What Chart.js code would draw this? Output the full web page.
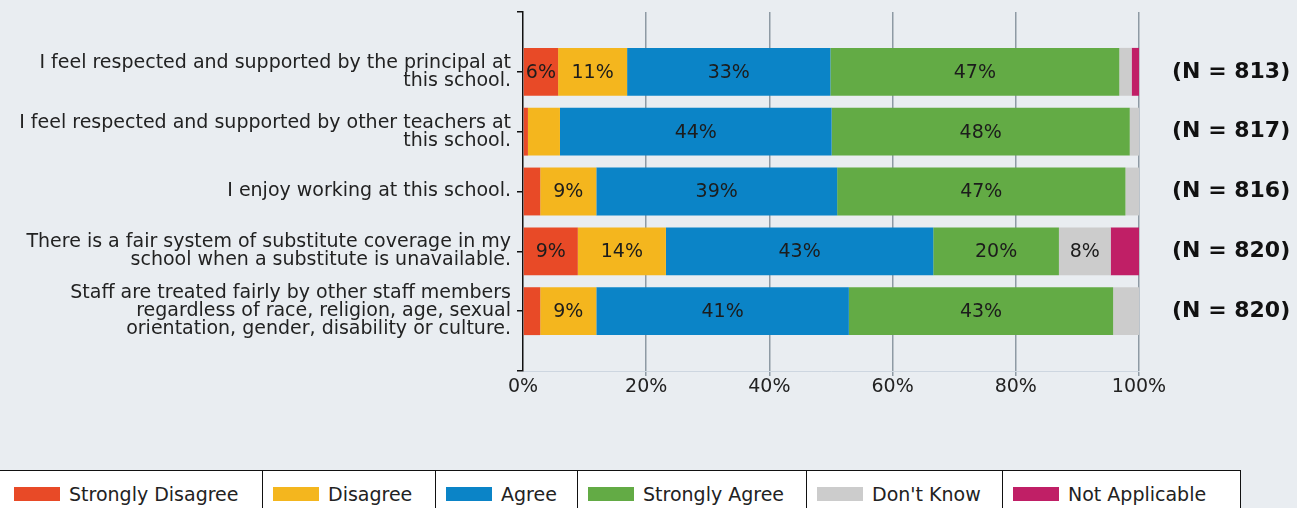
<!DOCTYPE html>
<html>
<head>
<meta charset="utf-8">
<script src="https://cdn.jsdelivr.net/npm/chart.js@4/dist/chart.umd.min.js"></script>
<style>
  body { margin: 0; background: #e9edf1; font-family: "DejaVu Sans", sans-serif; }
  #wrap { position: relative; width: 1297px; height: 508px; overflow: hidden; }
  #legend { position: absolute; left: -1px; top: 470px; display: flex; }
  .cell { box-sizing: border-box; height: 50px; background: #fff; border: 1.5px solid #111; border-left: none;
          display: flex; align-items: flex-start; padding: 12px 0 0 10px; font-size: 19px; color: #222; }
  .cell:first-child { border-left: 1.5px solid #111; padding-left: 14px; }
  .sw { width: 46px; height: 14px; margin: 4px 9px 0 0; }
</style>
</head>
<body>
<div id="wrap">
  <canvas id="grafico" width="1297" height="462"></canvas>
  <div id="legend"></div>
</div>
<script>
// Preguntas (eje vertical), con saltos de línea como en el original
const preguntas = [
    ["I feel respected and supported by the principal at", "this school."],
    ["I feel respected and supported by other teachers at", "this school."],
    ["I enjoy working at this school."],
    ["There is a fair system of substitute coverage in my", "school when a substitute is unavailable."],
    ["Staff are treated fairly by other staff members", "regardless of race, religion, age, sexual", "orientation, gender, disability or culture."]
];
const totalesN = ["(N = 813)", "(N = 817)", "(N = 816)", "(N = 820)", "(N = 820)"];

// Porcentajes por respuesta
const muyDesacuerdo = [5.7, 0.8, 2.8, 8.9, 2.8];
const desacuerdo = [11.2, 5.2, 9.1, 14.3, 9.1];
const deAcuerdo = [33.0, 44.1, 39.1, 43.4, 41.0];
const muyDeAcuerdo = [46.9, 48.4, 46.8, 20.4, 42.9];
const noSabe = [2.0, 1.5, 2.2, 8.4, 4.2];
const noAplica = [1.2, 0, 0, 4.6, 0];

const ticksX = [0, 20, 40, 60, 80, 100];

const series = [
    { label: "Strongly Disagree", data: muyDesacuerdo, color: "#e84a27" },
    { label: "Disagree", data: desacuerdo, color: "#f4b61e" },
    { label: "Agree", data: deAcuerdo, color: "#0b84c7" },
    { label: "Strongly Agree", data: muyDeAcuerdo, color: "#63ab45" },
    { label: "Don't Know", data: noSabe, color: "#cccccc" },
    { label: "Not Applicable", data: noAplica, color: "#c01f66" }
];

// Etiquetas de porcentaje dentro de las barras
const etiquetasBarras = {
    id: "etiquetasBarras",
    afterDatasetsDraw(chart) {
        const ctx = chart.ctx;
        ctx.save();
        ctx.font = "19px 'DejaVu Sans'";
        ctx.fillStyle = "#1c1c1c";
        ctx.textAlign = "center";
        ctx.textBaseline = "middle";
        chart.data.datasets.forEach((ds, i) => {
            chart.getDatasetMeta(i).data.forEach((bar, j) => {
                const v = ds.data[j].x;
                if (v < 5.5) return;
                const p = bar.getCenterPoint();
                ctx.fillText(Math.round(v) + "%", p.x, p.y + 1);
            });
        });
        ctx.restore();
    }
};

const todosLosTicks = [0, 1, 2, 3, 4, 5, 6];

// quita el relleno que Chart.js añade por las etiquetas de los extremos
const sinRelleno = s => { s.paddingTop = 0; s.paddingBottom = 0; s.paddingLeft = 0; s.paddingRight = 0; };

new Chart(document.getElementById("grafico"), {
    type: "bar",
    data: {
        datasets: series.map(s => ({
            label: s.label,
            data: s.data.map((v, i) => ({ x: v, y: i + 1 })),
            backgroundColor: s.color,
            borderWidth: 0,
            barPercentage: 0.8,
            categoryPercentage: 1.0,
            yAxisID: "y"
        }))
    },
    options: {
        indexAxis: "y",
        responsive: false,
        animation: false,
        layout: { padding: { top: 12, left: 0, right: 0, bottom: 0 } },
        plugins: { legend: { display: false }, tooltip: { enabled: false } },
        scales: {
            x: {
                type: "linear",
                stacked: true,
                min: 0,
                max: 100,
                afterBuildTicks: s => { s.ticks = ticksX.map(v => ({ value: v })); },
                afterFit: s => { s.height = 91; sinRelleno(s); },
                ticks: {
                    callback: v => v + "%",
                    font: { family: "DejaVu Sans", size: 19 },
                    color: "#222",
                    padding: 0,
                    maxRotation: 0
                },
                grid: {
                    color: c => c.index === 0 ? "rgba(0,0,0,0)" : "#8e9aa4",
                    lineWidth: 1.5,
                    tickLength: 5
                },
                border: { color: "#cdd6e0", width: 1 }
            },
            y: {
                type: "linear",
                stacked: true,
                reverse: true,
                offset: false,
                min: 0,
                max: 6,
                position: "left",
                afterBuildTicks: s => { s.ticks = todosLosTicks.map(v => ({ value: v })); },
                afterFit: s => { s.width = 523; sinRelleno(s); },
                ticks: {
                    callback: v => (v >= 1 && v <= 5) ? preguntas[v - 1] : "",
                    font: { family: "DejaVu Sans", size: 19, lineHeight: 0.95 },
                    color: "#222",
                    padding: 6,
                    autoSkip: false
                },
                grid: { offset: false, drawOnChartArea: false, color: "#111", tickLength: 6, lineWidth: 1.5 },
                border: { color: "#111", width: 1.5 }
            },
            y2: {
                type: "linear",
                reverse: true,
                offset: false,
                min: 0,
                max: 6,
                position: "right",
                afterBuildTicks: s => { s.ticks = todosLosTicks.map(v => ({ value: v })); },
                afterFit: s => { s.width = 158; sinRelleno(s); },
                ticks: {
                    callback: v => (v >= 1 && v <= 5) ? totalesN[v - 1] : "",
                    font: { family: "DejaVu Sans", size: 22, weight: "bold" },
                    color: "#111",
                    padding: 33,
                    autoSkip: false
                },
                grid: { display: false, drawTicks: false },
                border: { display: false }
            }
        }
    },
    plugins: [etiquetasBarras]
});

// Leyenda en celdas con borde, como la original
const anchos = [264, 173, 142, 229, 196, 238];
const leyenda = document.getElementById("legend");
series.forEach((s, i) => {
    const celda = document.createElement("div");
    celda.className = "cell";
    celda.style.width = anchos[i] + "px";
    celda.innerHTML = '<span class="sw" style="background:' + s.color + '"></span><span>' + s.label + '</span>';
    leyenda.appendChild(celda);
});
</script>
</body>
</html>
